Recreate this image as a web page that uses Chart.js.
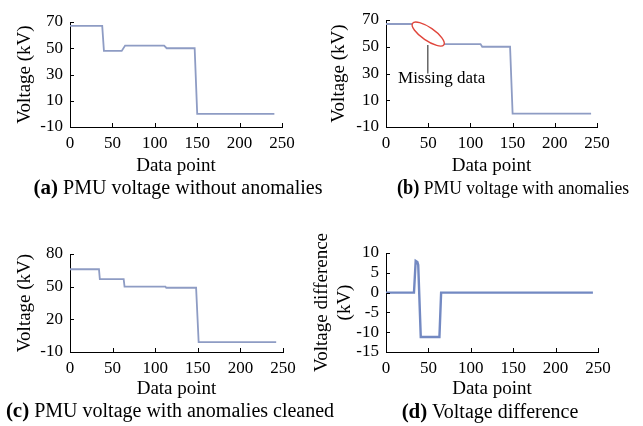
<!DOCTYPE html>
<html>
<head>
<meta charset="utf-8">
<script src="https://cdn.jsdelivr.net/npm/chart.js@4.4.0/dist/chart.umd.min.js"></script>
<style>
  body { margin: 0; background: #fff; }
  #page { position: relative; width: 643px; height: 426px; overflow: hidden; }
  .box { position: absolute; }
  .cap { position: absolute; font-family: 'Liberation Serif', 'Times New Roman', serif; font-size: 20px;
         line-height: 24px; text-align: center; white-space: nowrap; color: #000; }
  .cap b { font-size: 1.05em; }
</style>
</head>
<body>
<div id="page">
  <div class="box" style="left:0;top:0;width:320px;height:180px"><canvas id="ca"></canvas></div>
  <div class="box" style="left:320px;top:0;width:323px;height:180px"><canvas id="cb"></canvas></div>
  <div class="box" style="left:0;top:200px;width:320px;height:200px"><canvas id="cc"></canvas></div>
  <div class="box" style="left:310px;top:200px;width:333px;height:200px"><canvas id="cd"></canvas></div>
  <div class="cap" style="left:28px;top:175px;width:300px"><b>(a)</b> PMU voltage without anomalies</div>
  <div class="cap" style="left:383px;top:175px;width:260px;font-size:19.5px;transform:scaleX(0.9);transform-origin:130px 0"><b>(b)</b> PMU voltage with anomalies</div>
  <div class="cap" style="left:0px;top:398px;width:340px"><b>(c)</b> PMU voltage with anomalies cleaned</div>
  <div class="cap" style="left:340px;top:399px;width:300px"><b>(d)</b> Voltage difference</div>
</div>
<script>
// (a) PMU voltage without anomalies
const aX = [0, 38, 40, 61, 65, 111, 114, 147, 150, 241];
const aY = [67, 67, 48, 48, 52, 52, 50, 50, 0, 0];
// (b) PMU voltage with anomalies (null = missing data)
const bX = [0, 35, 36, 67, 112, 114, 147, 150, 243];
const bY = [67, 67, null, 52, 52, 50, 50, 0, 0];
// (c) PMU voltage with anomalies cleaned
const cX = [0, 34, 35, 63, 64, 112, 113, 148, 151, 242];
const cY = [66, 66, 57, 57, 50, 50, 49, 49, -1, -1];
// (d) Voltage difference
const dX = [0, 33, 35, 37, 38, 41, 63, 65, 244];
const dY = [0, 0, 8, 7.7, 7, -11.2, -11.2, 0, 0];

const xTicks = [0, 50, 100, 150, 200, 250];

const serif = "'Liberation Serif', 'Times New Roman', serif";

// ticks drawn inside the plot, like the original figure
const innerTicks = {
  id: 'innerTicks',
  afterDraw(chart) {
    const ctx = chart.ctx;
    const area = chart.chartArea;
    ctx.save();
    ctx.strokeStyle = '#000';
    ctx.lineWidth = 1;
    ctx.beginPath();
    chart.scales.x.ticks.forEach(t => {
      const px = Math.round(chart.scales.x.getPixelForValue(t.value)) + 0.5;
      ctx.moveTo(px, area.bottom);
      ctx.lineTo(px, area.bottom - 4);
    });
    chart.scales.y.ticks.forEach(t => {
      const py = Math.round(chart.scales.y.getPixelForValue(t.value)) + 0.5;
      ctx.moveTo(area.left, py);
      ctx.lineTo(area.left + 4, py);
    });
    ctx.stroke();
    ctx.restore();
  }
};

// red ellipse + callout for the missing data in (b)
const missingNote = {
  id: 'missingNote',
  afterDraw(chart) {
    if (chart.canvas.id !== 'cb') return;
    const ctx = chart.ctx;
    const x = chart.scales.x, y = chart.scales.y;
    const cx = x.getPixelForValue(50), cy = y.getPixelForValue(59.5);
    ctx.save();
    ctx.beginPath();
    ctx.ellipse(cx, cy, 19, 6.5, 34.5 * Math.PI / 180, 0, Math.PI * 2);
    ctx.fillStyle = '#fff';
    ctx.fill();
    ctx.strokeStyle = '#e0463c';
    ctx.lineWidth = 1.4;
    ctx.stroke();
    ctx.beginPath();
    ctx.strokeStyle = '#666';
    ctx.lineWidth = 1.5;
    const lx = x.getPixelForValue(49.5);
    ctx.moveTo(lx, cy + 11);
    ctx.lineTo(lx, y.getPixelForValue(30));
    ctx.stroke();
    ctx.fillStyle = '#000';
    ctx.font = '17px ' + serif;
    ctx.textAlign = 'center';
    ctx.textBaseline = 'middle';
    ctx.fillText('Missing data', x.getPixelForValue(66), y.getPixelForValue(26));
    ctx.restore();
  }
};

function makePanel(id, xs, ys, yMin, yMax, yStep, lay) {
  const pts = xs.map((v, i) => ({ x: v, y: ys[i] }));
  return new Chart(document.getElementById(id), {
    type: 'scatter',
    plugins: [innerTicks, missingNote],
    data: {
      datasets: [{
        data: pts,
        showLine: true,
        spanGaps: false,
        borderColor: lay.color,
        borderWidth: lay.width,
        pointRadius: 0,
        tension: 0,
        clip: false
      }]
    },
    options: {
      responsive: true,
      maintainAspectRatio: false,
      animation: false,
      events: [],
      layout: { padding: { top: lay.top, right: lay.right, left: 0, bottom: 0 } },
      plugins: { legend: { display: false }, tooltip: { enabled: false } },
      scales: {
        x: {
          type: 'linear', min: 0, max: 250,
          afterBuildTicks: s => { s.ticks = xTicks.map(v => ({ value: v })); },
          afterFit: s => { s.height = lay.xh; },
          grid: { display: false, drawTicks: false },
          border: { display: true, color: '#000', width: 1 },
          ticks: { color: '#000', padding: 6, autoSkip: false, font: { family: serif, size: 17 }, maxRotation: 0 },
          title: { display: true, text: 'Data point', color: '#000', padding: { top: 0, bottom: lay.xtb },
                   font: { family: serif, size: 19 } }
        },
        y: {
          type: 'linear', min: yMin, max: yMax,
          ticks: { stepSize: yStep, autoSkip: false, color: '#000', padding: 7, font: { family: serif, size: 17 } },
          afterFit: s => { s.width = lay.yw; },
          grid: { display: false, drawTicks: false },
          border: { display: true, color: '#000', width: 1 },
          title: { display: true, text: lay.ytitle, color: '#000', padding: { top: lay.ytp, bottom: 0 },
                   font: { family: serif, size: 19, lineHeight: lay.ylh || 1.2 } }
        }
      }
    }
  });
}

const lightLine = '#8e9cc4';
makePanel('ca', aX, aY, -10, 70, 20,
  { top: 22, right: 38, xh: 53, yw: 70, xtb: 3, ytp: 13.6, ytitle: 'Voltage (kV)', color: lightLine, width: 1.8 });
makePanel('cb', bX, bY, -10, 70, 20,
  { top: 20, right: 46, xh: 53, yw: 66, xtb: 3, ytp: 7.6, ytitle: 'Voltage (kV)', color: lightLine, width: 1.8 });
makePanel('cc', cX, cY, -10, 80, 30,
  { top: 54, right: 37, xh: 48, yw: 70, xtb: 0, ytp: 13.6, ytitle: 'Voltage (kV)', color: lightLine, width: 1.8 });
makePanel('cd', dX, dY, -15, 10, 5,
  { top: 53, right: 45, xh: 48, yw: 76, xtb: 0, ytp: 0, ytitle: ['Voltage difference', '(kV)'], ylh: 1.24,
    color: '#7389c2', width: 2.4 });
</script>
</body>
</html>
